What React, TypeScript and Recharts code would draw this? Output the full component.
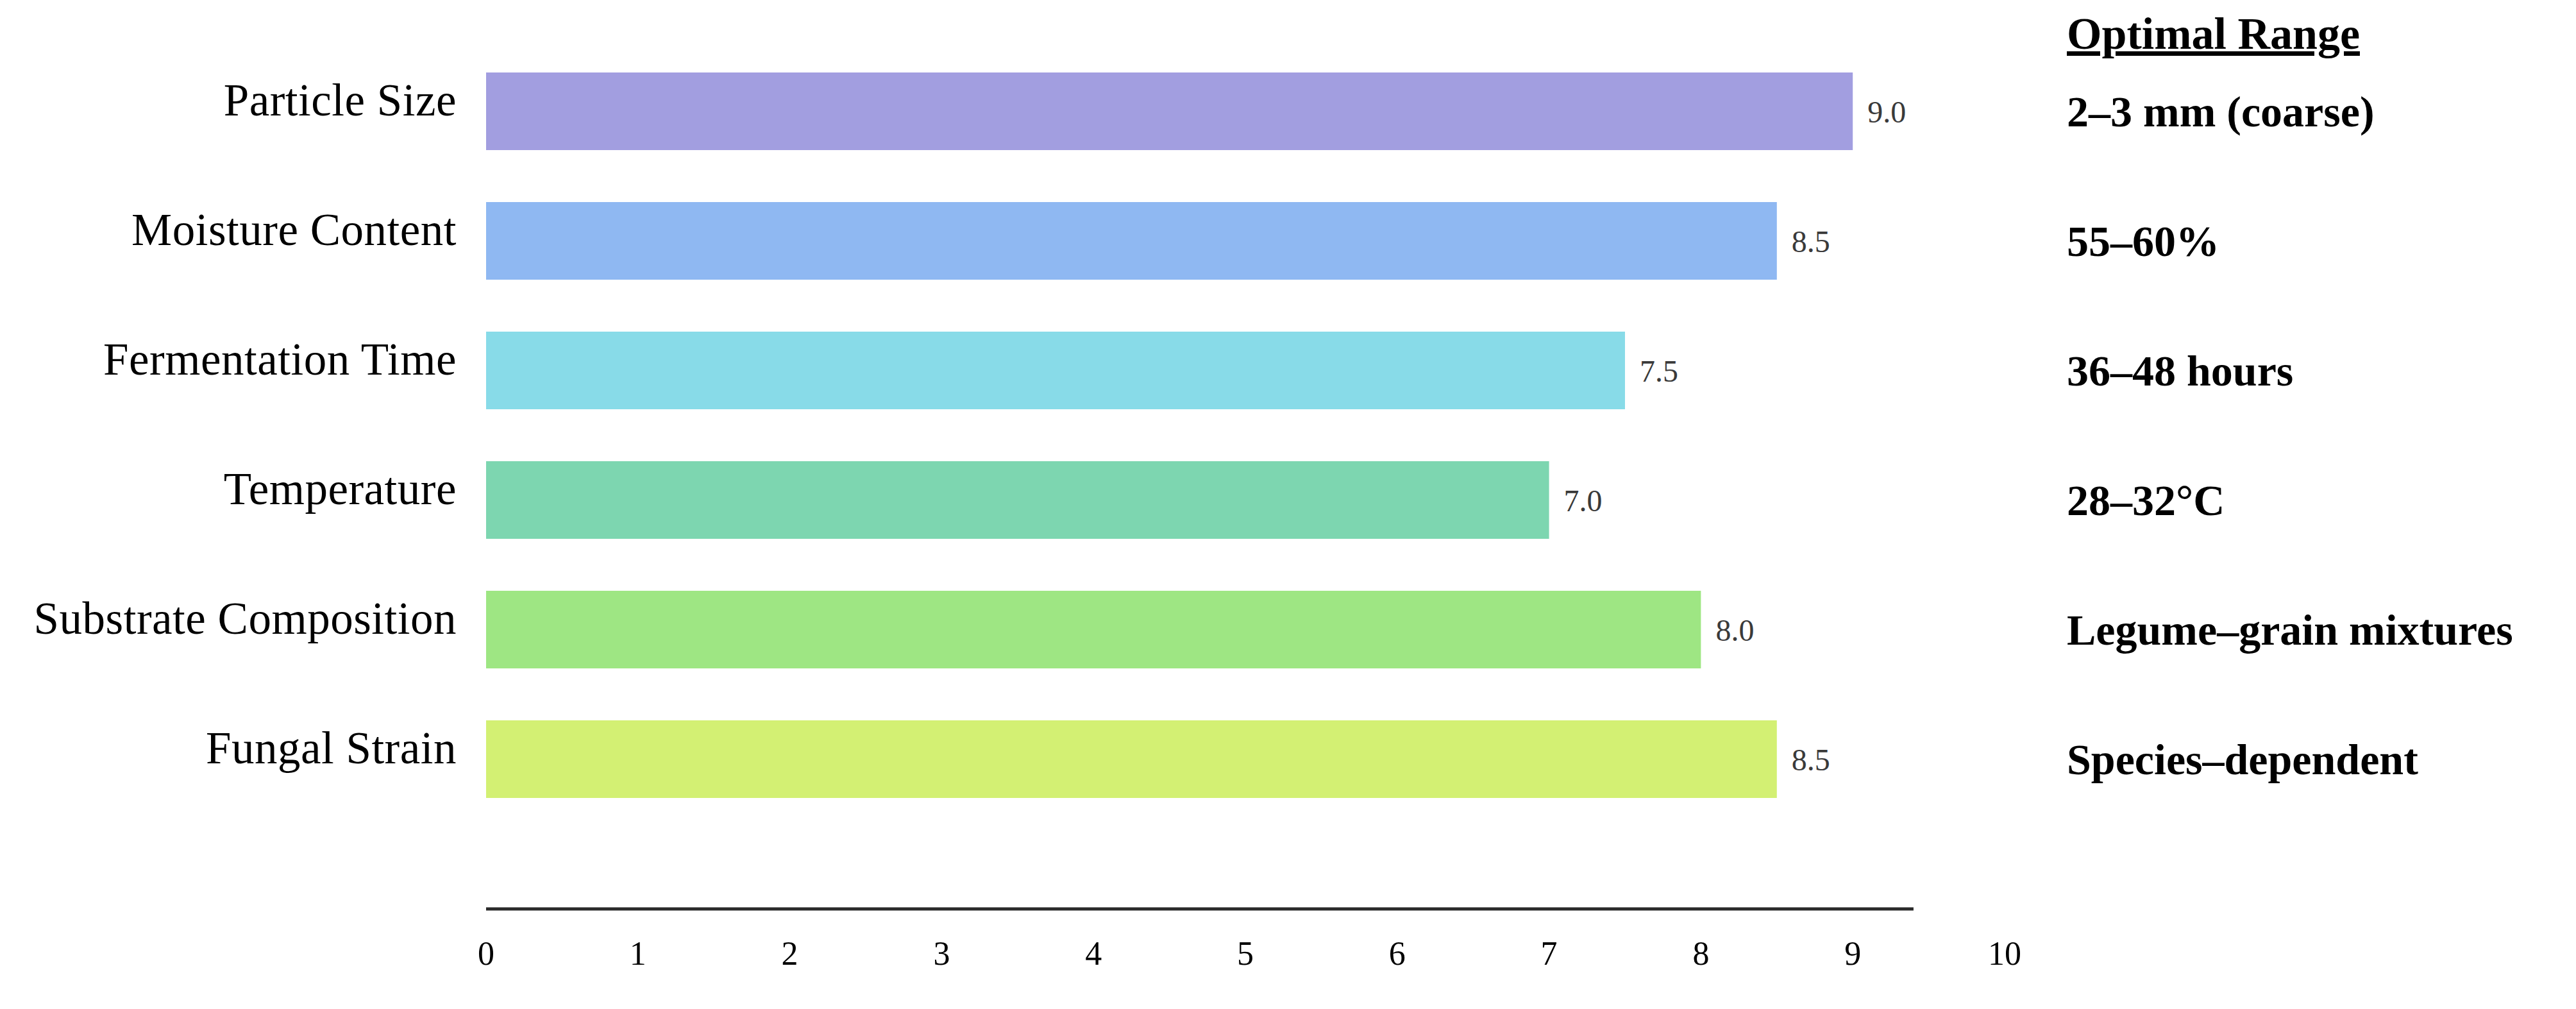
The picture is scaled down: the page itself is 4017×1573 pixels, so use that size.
import React from "react";
import { BarChart, Bar, XAxis, YAxis, Cell, LabelList, Label } from "recharts";

// the page gives body an 8px margin; the chart fills the whole window
document.body.style.margin = "0";

const factors = [
  "Particle Size",
  "Moisture Content",
  "Fermentation Time",
  "Temperature",
  "Substrate Composition",
  "Fungal Strain",
];
const scores = [9.0, 8.5, 7.5, 7.0, 8.0, 8.5];
const optimalRanges = [
  "2–3 mm (coarse)",
  "55–60%",
  "36–48 hours",
  "28–32°C",
  "Legume–grain mixtures",
  "Species–dependent",
];
const barColors = ["#a29ee0", "#8fb8f2", "#88dbe8", "#7dd6b0", "#9ee683", "#d3f073"];
const xTicks = [0, 1, 2, 3, 4, 5, 6, 7, 8, 9, 10];
const X_MAX = 10;
// the drawn axis line stops short of the last tick
const AXIS_LINE_END = 9.4;

const WIDTH = 4017;
const HEIGHT = 1573;
const LEFT_AXIS_W = 758;
const RIGHT_AXIS_W = 891;
const PLOT_W = WIDTH - LEFT_AXIS_W - RIGHT_AXIS_W;

const FONT = "'Liberation Serif', 'Times New Roman', serif";

const rows = factors.map((name, i) => ({
  name,
  score: scores[i],
  range: optimalRanges[i],
}));

const axisPadding = { top: 0, bottom: 133 };

export default function App() {
  const dash = (AXIS_LINE_END / X_MAX) * PLOT_W;

  return (
    <div style={{ width: WIDTH, height: HEIGHT, overflow: "hidden", background: "#fff" }}>
      <BarChart
        width={WIDTH}
        height={HEIGHT}
        data={rows}
        layout="vertical"
        margin={{ top: 72, right: 0, bottom: 0, left: 0 }}
      >
        <XAxis
          type="number"
          domain={[0, X_MAX]}
          ticks={xTicks}
          interval={0}
          height={156}
          tickLine={false}
          tickSize={0}
          tickMargin={50}
          axisLine={{ stroke: "#2a2a2a", strokeWidth: 5, strokeDasharray: `${dash} 10000` }}
          tick={{ fill: "#000", fontSize: 52, fontFamily: FONT }}
        />
        <YAxis
          type="category"
          dataKey="name"
          width={LEFT_AXIS_W}
          padding={axisPadding}
          axisLine={false}
          tickLine={false}
          tickSize={0}
          tickMargin={46}
          tick={{ fill: "#000", fontSize: 71, letterSpacing: 0.5, fontFamily: FONT, dy: -18 }}
        />
        <YAxis
          yAxisId="right"
          orientation="right"
          type="category"
          dataKey="name"
          width={RIGHT_AXIS_W}
          padding={axisPadding}
          axisLine={false}
          tickLine={false}
          tickSize={0}
          tickMargin={97}
          tickFormatter={(_v: string, i: number) => optimalRanges[i]}
          tick={{ fill: "#000", fontSize: 68, fontWeight: "bold", fontFamily: FONT }}
        >
          <Label
            content={({ viewBox }: any) => (
              <text
                x={viewBox.x + 97}
                y={viewBox.y + 4}
                fill="#000"
                fontSize={70}
                fontWeight="bold"
                fontFamily={FONT}
                textDecoration="underline"
              >
                Optimal Range
              </text>
            )}
          />
        </YAxis>
        <Bar dataKey="score" barSize={121} isAnimationActive={false}>
          {rows.map((r, i) => (
            <Cell key={r.name} fill={barColors[i]} />
          ))}
          <LabelList
            dataKey="score"
            position="right"
            offset={23}
            formatter={(v: number) => v.toFixed(1)}
            fill="#3a3a3a"
            fontSize={48}
            fontFamily={FONT}
          />
        </Bar>
      </BarChart>
    </div>
  );
}
